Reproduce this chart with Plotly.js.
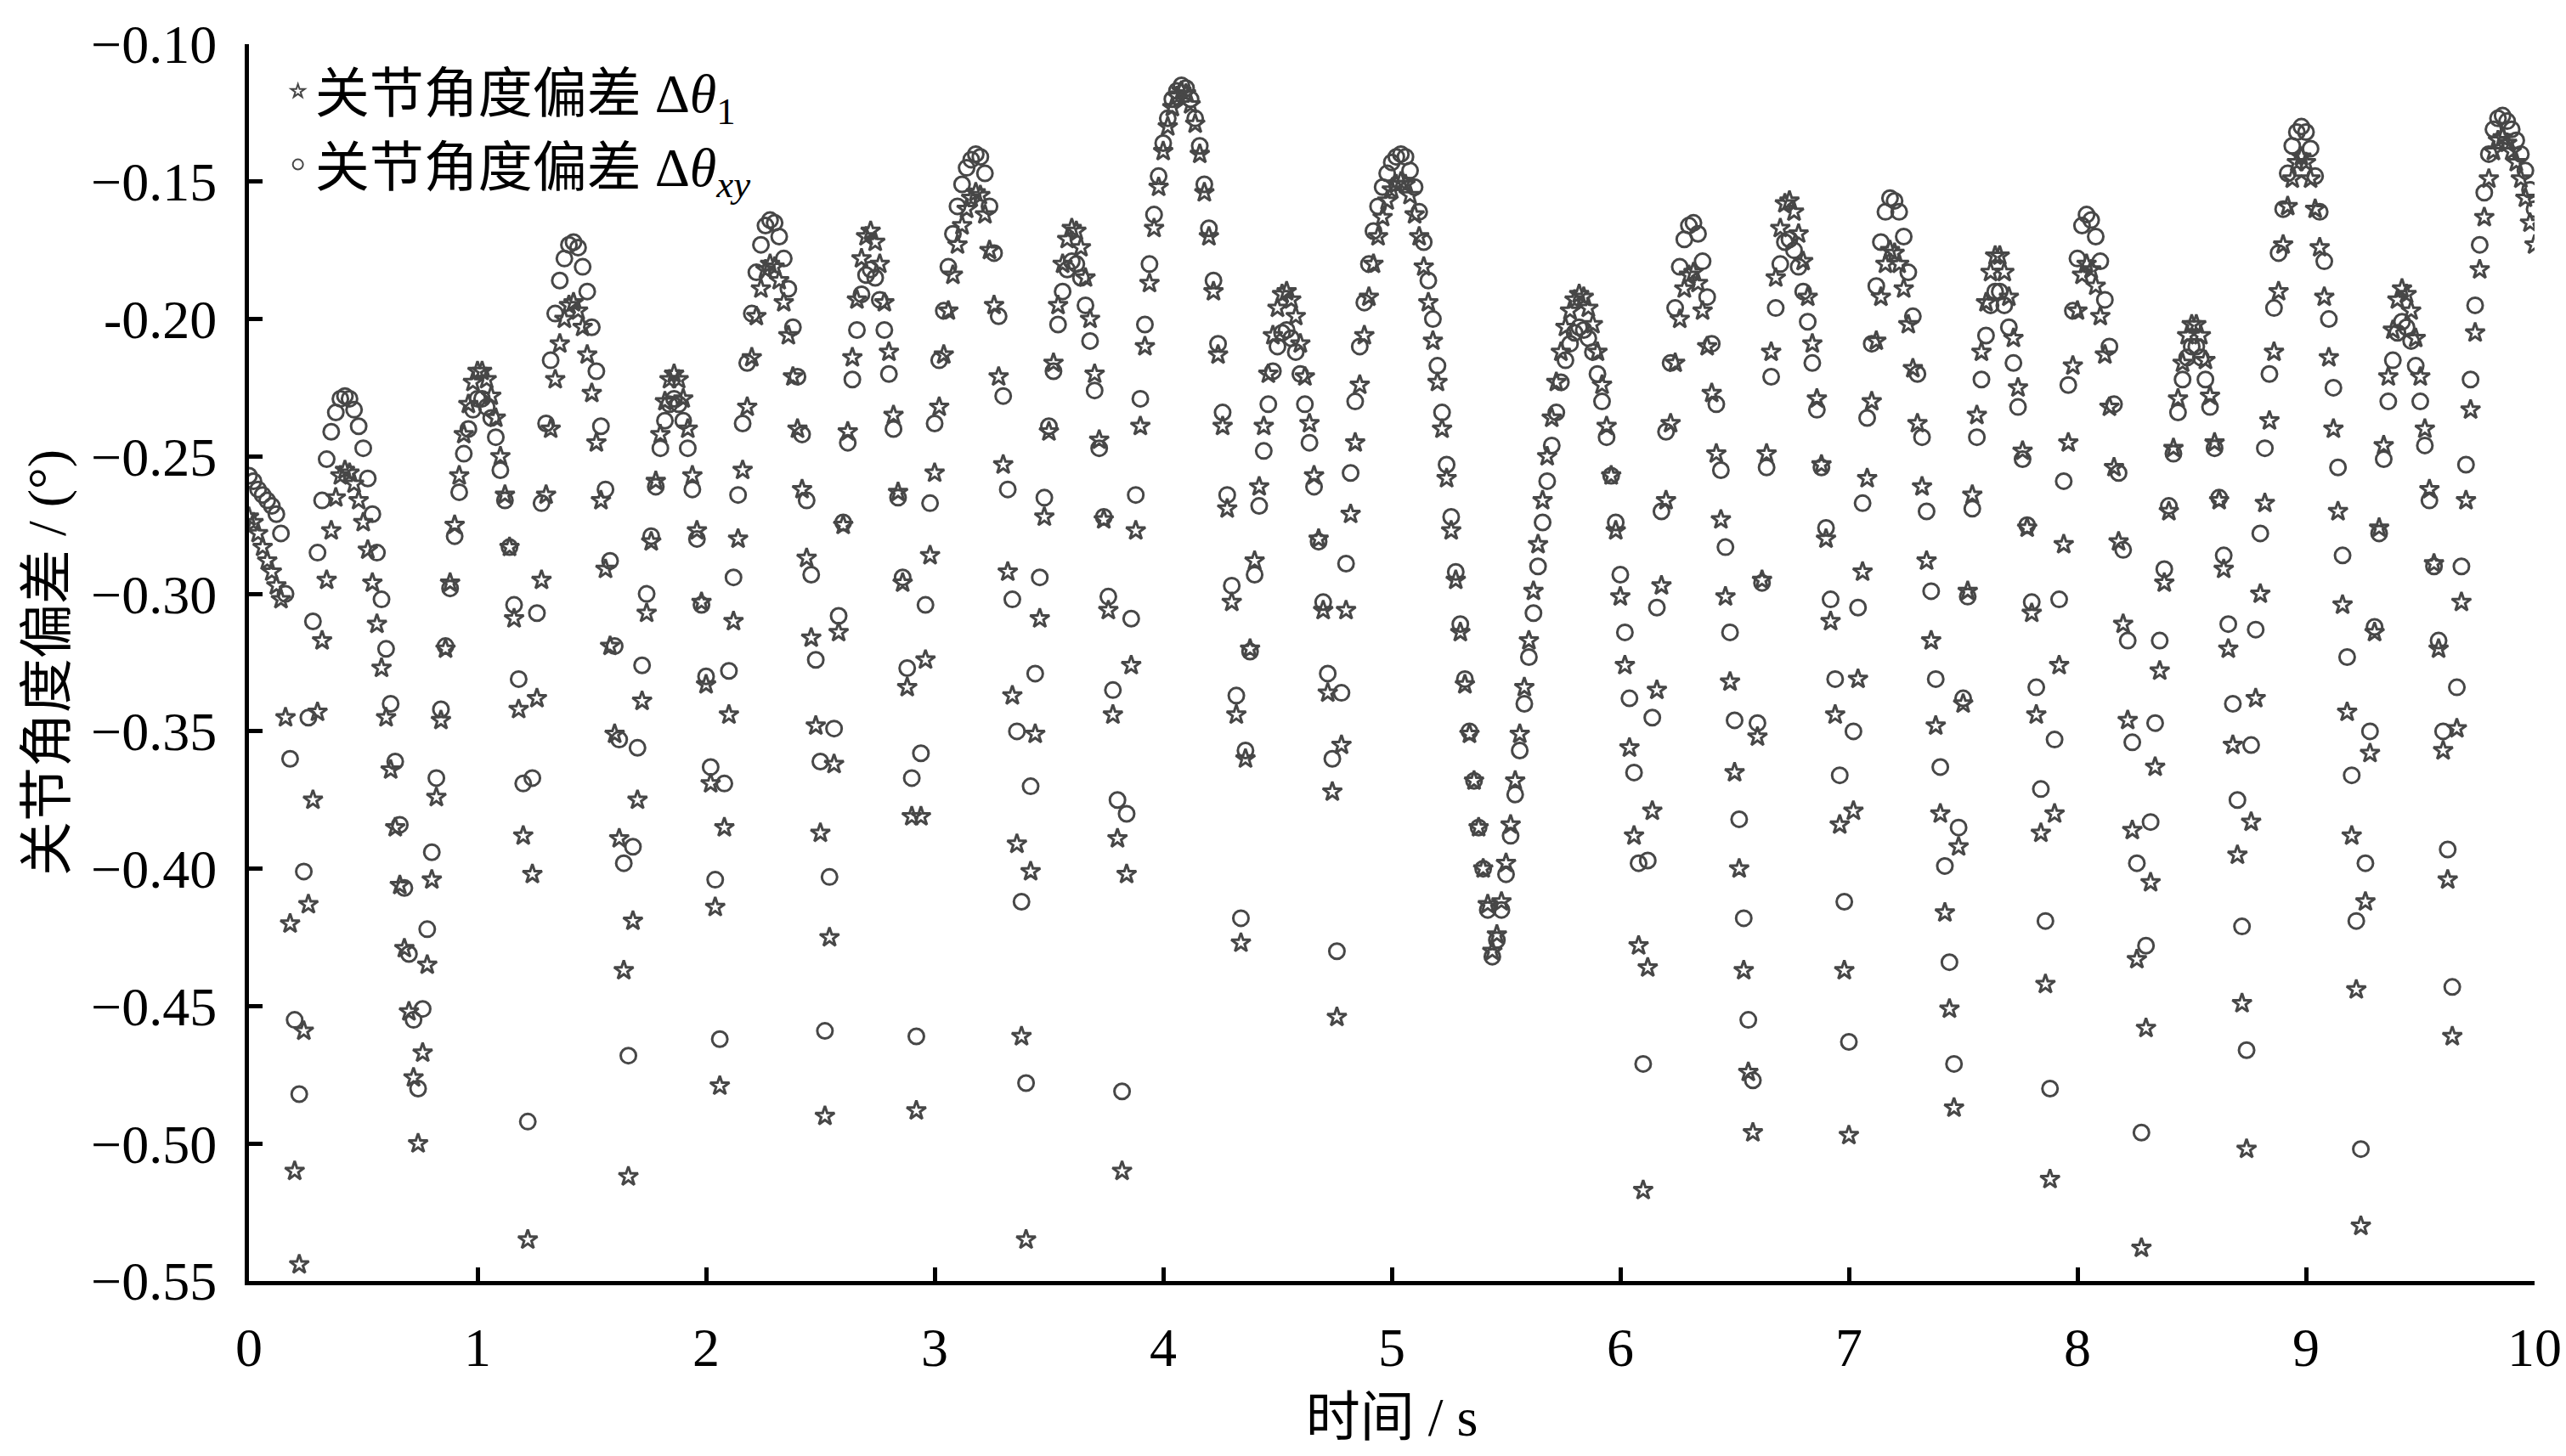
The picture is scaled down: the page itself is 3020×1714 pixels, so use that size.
<!DOCTYPE html>
<html>
<head>
<meta charset="utf-8">
<script src="https://cdn.plot.ly/plotly-3.0.1.min.js"></script>
<style>
  html, body { margin: 0; padding: 0; background: #fff; }
</style>
</head>
<body>
<div id="divPlot" style="width:3020px;height:1714px;"></div>
<script>
/* sampled every 0.02 s from t = 0 to t = 10 s */
var step = 0.02;

// joint angle deviation, delta theta_1 (stars)
var devTheta1 = [
  -0.272, -0.274, -0.278, -0.283, -0.288, -0.292, -0.297, -0.302, -0.345, -0.420,
  -0.510, -0.544, -0.459, -0.413, -0.375, -0.343, -0.317, -0.295, -0.277, -0.265,
  -0.257, -0.255, -0.256, -0.260, -0.266, -0.274, -0.284, -0.296, -0.311, -0.327,
  -0.345, -0.364, -0.385, -0.406, -0.429, -0.452, -0.476, -0.500, -0.467, -0.435,
  -0.404, -0.374, -0.346, -0.320, -0.296, -0.275, -0.257, -0.242, -0.231, -0.223,
  -0.219, -0.219, -0.222, -0.228, -0.236, -0.250, -0.264, -0.283, -0.309, -0.342,
  -0.388, -0.535, -0.402, -0.338, -0.295, -0.264, -0.240, -0.222, -0.209, -0.200,
  -0.195, -0.194, -0.197, -0.203, -0.213, -0.227, -0.245, -0.266, -0.291, -0.319,
  -0.351, -0.389, -0.437, -0.512, -0.419, -0.375, -0.339, -0.307, -0.281, -0.259,
  -0.242, -0.230, -0.222, -0.220, -0.222, -0.229, -0.240, -0.257, -0.277, -0.303,
  -0.333, -0.369, -0.414, -0.479, -0.385, -0.344, -0.310, -0.280, -0.255, -0.232,
  -0.214, -0.199, -0.189, -0.182, -0.180, -0.181, -0.186, -0.194, -0.206, -0.221,
  -0.240, -0.262, -0.287, -0.316, -0.348, -0.387, -0.490, -0.425, -0.362, -0.314,
  -0.275, -0.241, -0.214, -0.193, -0.178, -0.170, -0.168, -0.172, -0.180, -0.194,
  -0.212, -0.235, -0.263, -0.296, -0.334, -0.381, -0.488, -0.381, -0.324, -0.286,
  -0.256, -0.232, -0.213, -0.197, -0.184, -0.173, -0.166, -0.160, -0.156, -0.154,
  -0.155, -0.162, -0.175, -0.195, -0.221, -0.253, -0.292, -0.337, -0.391, -0.461,
  -0.535, -0.401, -0.351, -0.309, -0.272, -0.241, -0.216, -0.195, -0.180, -0.171,
  -0.167, -0.168, -0.174, -0.185, -0.200, -0.220, -0.244, -0.273, -0.306, -0.344,
  -0.389, -0.510, -0.402, -0.326, -0.277, -0.239, -0.210, -0.187, -0.167, -0.152,
  -0.139, -0.130, -0.123, -0.119, -0.117, -0.118, -0.122, -0.129, -0.140, -0.154,
  -0.170, -0.190, -0.213, -0.239, -0.269, -0.303, -0.344, -0.427, -0.360, -0.320,
  -0.288, -0.261, -0.239, -0.220, -0.206, -0.196, -0.191, -0.190, -0.193, -0.199,
  -0.209, -0.221, -0.238, -0.257, -0.280, -0.306, -0.336, -0.372, -0.454, -0.355,
  -0.306, -0.271, -0.245, -0.224, -0.206, -0.192, -0.180, -0.170, -0.163, -0.157,
  -0.153, -0.151, -0.150, -0.151, -0.155, -0.162, -0.170, -0.181, -0.194, -0.208,
  -0.223, -0.240, -0.258, -0.277, -0.295, -0.314, -0.333, -0.351, -0.368, -0.385,
  -0.400, -0.413, -0.430, -0.424, -0.412, -0.398, -0.384, -0.368, -0.351, -0.334,
  -0.317, -0.299, -0.282, -0.266, -0.250, -0.236, -0.223, -0.212, -0.203, -0.197,
  -0.193, -0.191, -0.192, -0.196, -0.202, -0.212, -0.224, -0.239, -0.257, -0.277,
  -0.301, -0.326, -0.356, -0.388, -0.428, -0.517, -0.436, -0.379, -0.335, -0.297,
  -0.266, -0.238, -0.216, -0.200, -0.189, -0.184, -0.183, -0.187, -0.197, -0.210,
  -0.227, -0.249, -0.273, -0.301, -0.332, -0.365, -0.400, -0.437, -0.474, -0.496,
  -0.352, -0.295, -0.249, -0.212, -0.185, -0.167, -0.158, -0.157, -0.161, -0.169,
  -0.179, -0.192, -0.209, -0.229, -0.253, -0.280, -0.310, -0.344, -0.384, -0.437,
  -0.497, -0.379, -0.331, -0.292, -0.258, -0.230, -0.208, -0.192, -0.180, -0.175,
  -0.176, -0.180, -0.189, -0.202, -0.218, -0.238, -0.261, -0.288, -0.317, -0.348,
  -0.380, -0.416, -0.451, -0.487, -0.392, -0.340, -0.299, -0.264, -0.235, -0.212,
  -0.194, -0.183, -0.177, -0.177, -0.183, -0.192, -0.207, -0.225, -0.248, -0.276,
  -0.307, -0.344, -0.387, -0.442, -0.513, -0.380, -0.326, -0.282, -0.245, -0.217,
  -0.197, -0.184, -0.180, -0.182, -0.188, -0.199, -0.213, -0.232, -0.254, -0.281,
  -0.311, -0.346, -0.386, -0.433, -0.538, -0.458, -0.405, -0.363, -0.328, -0.296,
  -0.270, -0.247, -0.229, -0.216, -0.206, -0.202, -0.202, -0.206, -0.215, -0.228,
  -0.245, -0.266, -0.291, -0.320, -0.355, -0.395, -0.449, -0.502, -0.383, -0.338,
  -0.300, -0.267, -0.237, -0.212, -0.190, -0.173, -0.159, -0.149, -0.143, -0.141,
  -0.143, -0.149, -0.160, -0.174, -0.192, -0.214, -0.240, -0.270, -0.304, -0.343,
  -0.388, -0.444, -0.530, -0.412, -0.358, -0.314, -0.276, -0.246, -0.221, -0.204,
  -0.193, -0.189, -0.191, -0.197, -0.207, -0.221, -0.240, -0.262, -0.289, -0.320,
  -0.357, -0.404, -0.461, -0.349, -0.303, -0.266, -0.233, -0.205, -0.182, -0.163,
  -0.149, -0.139, -0.135, -0.134, -0.136, -0.139, -0.143, -0.149, -0.156, -0.165,
  -0.173
];

// joint angle deviation, delta theta_xy (circles)
var devThetaXY = [
  -0.257, -0.259, -0.262, -0.264, -0.266, -0.268, -0.271, -0.278, -0.300, -0.360,
  -0.455, -0.482, -0.401, -0.345, -0.310, -0.285, -0.266, -0.251, -0.241, -0.234,
  -0.229, -0.228, -0.229, -0.233, -0.239, -0.247, -0.258, -0.271, -0.285, -0.302,
  -0.320, -0.340, -0.361, -0.384, -0.407, -0.431, -0.455, -0.480, -0.451, -0.422,
  -0.394, -0.367, -0.342, -0.319, -0.298, -0.279, -0.263, -0.249, -0.240, -0.233,
  -0.229, -0.229, -0.232, -0.236, -0.243, -0.255, -0.266, -0.283, -0.304, -0.331,
  -0.369, -0.492, -0.367, -0.307, -0.267, -0.238, -0.215, -0.198, -0.186, -0.178,
  -0.173, -0.172, -0.174, -0.181, -0.190, -0.203, -0.219, -0.239, -0.262, -0.288,
  -0.319, -0.353, -0.398, -0.468, -0.392, -0.356, -0.326, -0.300, -0.279, -0.261,
  -0.247, -0.237, -0.231, -0.229, -0.231, -0.237, -0.247, -0.262, -0.280, -0.304,
  -0.330, -0.363, -0.404, -0.462, -0.369, -0.328, -0.294, -0.264, -0.238, -0.216,
  -0.198, -0.183, -0.173, -0.166, -0.164, -0.165, -0.170, -0.178, -0.189, -0.203,
  -0.221, -0.242, -0.266, -0.293, -0.324, -0.361, -0.459, -0.403, -0.349, -0.308,
  -0.274, -0.245, -0.222, -0.204, -0.191, -0.184, -0.182, -0.185, -0.193, -0.204,
  -0.220, -0.240, -0.265, -0.294, -0.327, -0.367, -0.461, -0.358, -0.304, -0.267,
  -0.238, -0.215, -0.197, -0.181, -0.169, -0.159, -0.151, -0.145, -0.142, -0.140,
  -0.141, -0.147, -0.159, -0.176, -0.199, -0.228, -0.262, -0.302, -0.350, -0.412,
  -0.478, -0.370, -0.329, -0.294, -0.265, -0.239, -0.219, -0.202, -0.190, -0.182,
  -0.179, -0.180, -0.185, -0.195, -0.208, -0.226, -0.247, -0.272, -0.301, -0.335,
  -0.375, -0.481, -0.380, -0.309, -0.264, -0.229, -0.202, -0.180, -0.162, -0.148,
  -0.136, -0.127, -0.120, -0.117, -0.115, -0.116, -0.120, -0.127, -0.137, -0.151,
  -0.167, -0.186, -0.209, -0.234, -0.264, -0.297, -0.337, -0.418, -0.357, -0.321,
  -0.293, -0.268, -0.248, -0.231, -0.219, -0.210, -0.205, -0.204, -0.207, -0.212,
  -0.220, -0.231, -0.245, -0.261, -0.281, -0.303, -0.329, -0.360, -0.430, -0.336,
  -0.289, -0.256, -0.230, -0.210, -0.194, -0.180, -0.168, -0.159, -0.152, -0.147,
  -0.143, -0.141, -0.140, -0.141, -0.146, -0.152, -0.161, -0.172, -0.186, -0.200,
  -0.217, -0.234, -0.253, -0.272, -0.292, -0.311, -0.331, -0.350, -0.368, -0.385,
  -0.400, -0.415, -0.432, -0.426, -0.415, -0.402, -0.388, -0.373, -0.357, -0.340,
  -0.323, -0.307, -0.290, -0.274, -0.259, -0.246, -0.234, -0.223, -0.215, -0.209,
  -0.205, -0.203, -0.204, -0.207, -0.212, -0.220, -0.230, -0.243, -0.257, -0.274,
  -0.293, -0.314, -0.338, -0.365, -0.398, -0.471, -0.397, -0.345, -0.305, -0.270,
  -0.241, -0.216, -0.196, -0.181, -0.171, -0.166, -0.165, -0.169, -0.179, -0.192,
  -0.209, -0.231, -0.255, -0.283, -0.314, -0.346, -0.382, -0.418, -0.455, -0.477,
  -0.347, -0.296, -0.254, -0.221, -0.196, -0.180, -0.172, -0.171, -0.175, -0.181,
  -0.190, -0.201, -0.216, -0.233, -0.254, -0.276, -0.302, -0.331, -0.366, -0.412,
  -0.463, -0.350, -0.305, -0.267, -0.236, -0.209, -0.188, -0.172, -0.161, -0.156,
  -0.157, -0.161, -0.170, -0.183, -0.199, -0.220, -0.243, -0.270, -0.299, -0.331,
  -0.363, -0.399, -0.434, -0.471, -0.385, -0.338, -0.301, -0.269, -0.243, -0.222,
  -0.206, -0.195, -0.190, -0.190, -0.195, -0.203, -0.216, -0.232, -0.251, -0.275,
  -0.303, -0.334, -0.371, -0.419, -0.480, -0.353, -0.302, -0.259, -0.224, -0.197,
  -0.178, -0.166, -0.162, -0.164, -0.170, -0.179, -0.193, -0.210, -0.231, -0.256,
  -0.284, -0.317, -0.354, -0.398, -0.496, -0.428, -0.383, -0.347, -0.317, -0.291,
  -0.268, -0.249, -0.234, -0.222, -0.214, -0.210, -0.210, -0.214, -0.222, -0.232,
  -0.247, -0.265, -0.286, -0.311, -0.340, -0.375, -0.421, -0.466, -0.355, -0.313,
  -0.278, -0.247, -0.220, -0.196, -0.176, -0.160, -0.147, -0.137, -0.132, -0.130,
  -0.132, -0.138, -0.148, -0.161, -0.179, -0.200, -0.225, -0.254, -0.286, -0.323,
  -0.366, -0.419, -0.502, -0.398, -0.350, -0.312, -0.278, -0.251, -0.230, -0.215,
  -0.205, -0.201, -0.203, -0.208, -0.217, -0.230, -0.246, -0.266, -0.290, -0.317,
  -0.350, -0.393, -0.443, -0.334, -0.290, -0.253, -0.222, -0.195, -0.173, -0.154,
  -0.140, -0.131, -0.127, -0.126, -0.128, -0.131, -0.135, -0.140, -0.146, -0.153,
  -0.160
];

var timeS = devTheta1.map(function (v, i) { return +(i * step).toFixed(2); });

/* axis ticks */
var yTickVals = [-0.10, -0.15, -0.20, -0.25, -0.30, -0.35, -0.40, -0.45, -0.50, -0.55];
var yTickText = ['\u22120.10', '\u22120.15', '-0.20', '\u22120.25', '\u22120.30',
                 '\u22120.35', '\u22120.40', '\u22120.45', '\u22120.50', '\u22120.55'];
var xTickVals = [0, 1, 2, 3, 4, 5, 6, 7, 8, 9, 10];

var serif = 'Liberation Serif, Times New Roman, Noto Sans CJK SC, serif';
var markGrey = '#474747';

var traceStar = {
  x : timeS,
  y : devTheta1,
  mode : 'markers',
  type : 'scatter',
  name : '关节角度偏差 Δ<i>θ</i><sub>1</sub>',
  marker : {
    symbol : 'star-open',
    size : 17,
    color : markGrey,
    line : {color : markGrey, width : 3}
  }
};

var traceCircle = {
  x : timeS,
  y : devThetaXY,
  mode : 'markers',
  type : 'scatter',
  name : '关节角度偏差 Δ<i>θ</i><sub><i>xy</i></sub>',
  marker : {
    symbol : 'circle-open',
    size : 18,
    color : markGrey,
    line : {color : markGrey, width : 3}
  }
};

var layout = {
  width : 3020,
  height : 1714,
  margin : {l : 293, r : 37, t : 52, b : 206},
  paper_bgcolor : '#ffffff',
  plot_bgcolor : '#ffffff',
  font : {family : serif, size : 64, color : '#000000'},
  showlegend : true,
  legend : {
    x : 0.014, y : 0.995, xanchor : 'left', yanchor : 'top',
    bgcolor : 'rgba(0,0,0,0)',
    borderwidth : 0,
    font : {family : serif, size : 64, color : '#000000'},
    itemsizing : 'constant',
    tracegroupgap : 0
  },
  xaxis : {
    range : [0, 10],
    tickvals : xTickVals,
    ticks : 'inside',
    ticklen : 16,
    tickwidth : 5,
    tickcolor : '#000',
    showline : true,
    linewidth : 5,
    linecolor : '#000',
    showgrid : false,
    zeroline : false,
    ticklabelstandoff : 18,
    tickfont : {family : serif, size : 64},
    title : {text : '时间 / s', font : {family : serif, size : 64}, standoff : 26}
  },
  yaxis : {
    range : [-0.55, -0.10],
    tickvals : yTickVals,
    ticktext : yTickText,
    ticks : 'inside',
    ticklen : 16,
    tickwidth : 5,
    tickcolor : '#000',
    showline : true,
    linewidth : 5,
    linecolor : '#000',
    showgrid : false,
    zeroline : false,
    ticklabelstandoff : 20,
    tickfont : {family : serif, size : 64},
    title : {text : '关节角度偏差 / (°)', font : {family : serif, size : 64}, standoff : 10}
  }
};

Plotly.newPlot('divPlot', [ traceStar, traceCircle ], layout,
               {displayModeBar : false, staticPlot : true});
</script>
</body>
</html>
